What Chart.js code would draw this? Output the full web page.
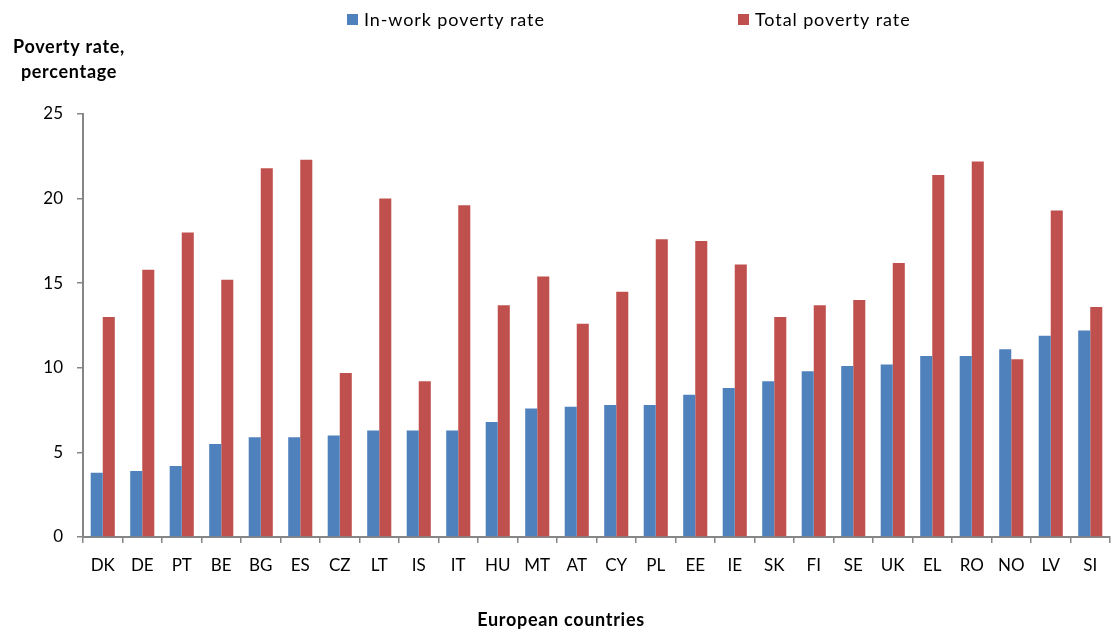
<!DOCTYPE html>
<html>
<head>
<meta charset="utf-8">
<title>In-work and total poverty rate</title>
<script src="https://cdn.jsdelivr.net/npm/chart.js@4.4.1/dist/chart.umd.min.js"></script>
<style>
  html, body { margin: 0; padding: 0; background: #fff; }
  #wrap { width: 1112px; height: 629px; position: relative; }
</style>
</head>
<body>
<div id="wrap"><canvas id="povertyChart"></canvas></div>
<script>
// country codes along the x axis
const countries = ["DK", "DE", "PT", "BE", "BG", "ES", "CZ", "LT", "IS", "IT", "HU", "MT", "AT",
  "CY", "PL", "EE", "IE", "SK", "FI", "SE", "UK", "EL", "RO", "NO", "LV", "SI"];

// in-work poverty rate, %
const inWorkRate = [3.8, 3.9, 4.2, 5.5, 5.9, 5.9, 6.0, 6.3, 6.3, 6.3, 6.8, 7.6, 7.7,
  7.8, 7.8, 8.4, 8.8, 9.2, 9.8, 10.1, 10.2, 10.7, 10.7, 11.1, 11.9, 12.2];

// total poverty rate, %
const totalRate = [13.0, 15.8, 18.0, 15.2, 21.8, 22.3, 9.7, 20.0, 9.2, 19.6, 13.7, 15.4, 12.6,
  14.5, 17.6, 17.5, 16.1, 13.0, 13.7, 14.0, 16.2, 21.4, 22.2, 10.5, 19.3, 13.6];

const seriesNames = ["In-work poverty rate", "Total poverty rate"];
const seriesColors = ["#4F81BD", "#C0504D"];
const yTicks = [0, 5, 10, 15, 20, 25];
const yTitle = ["Poverty rate,", "percentage"];
const xTitle = "European countries";

const FONT = "Lato, 'Liberation Sans', sans-serif";
const AXIS_GREY = "#868686";

Chart.defaults.font.family = FONT;
Chart.defaults.color = "#000";

// legend sits off-centre in the original, so it is drawn by hand
const legendX = [347, 738];

const extraText = {
  id: "extraText",
  afterDraw(chart) {
    const ctx = chart.ctx;
    ctx.save();
    ctx.textBaseline = "middle";

    // legend
    ctx.font = "18px " + FONT;
    ctx.letterSpacing = "0.9px";
    chart.data.datasets.forEach((ds, i) => {
      ctx.fillStyle = ds.backgroundColor;
      ctx.fillRect(legendX[i], 14, 11, 11);
      ctx.fillStyle = "#000";
      ctx.textAlign = "left";
      ctx.fillText(ds.label, legendX[i] + 17, 20);
    });

    // axis titles (y title is horizontal, above the axis)
    ctx.font = "bold 18px " + FONT;
    ctx.letterSpacing = "0.7px";
    ctx.textAlign = "center";
    yTitle.forEach((line, i) => ctx.fillText(line, 69, 47 + i * 25));
    ctx.fillText(xTitle, 561, 620);
    ctx.restore();
  }
};

new Chart(document.getElementById("povertyChart"), {
  type: "bar",
  data: {
    labels: countries,
    datasets: [
      { label: seriesNames[0], data: inWorkRate, backgroundColor: seriesColors[0] },
      { label: seriesNames[1], data: totalRate, backgroundColor: seriesColors[1] },
    ],
  },
  options: {
    responsive: true,
    maintainAspectRatio: false,
    animation: false,
    layout: { padding: { top: 114, right: 2, left: 0, bottom: 0 } },
    datasets: {
      bar: { categoryPercentage: 0.61, barPercentage: 1.0 },
    },
    plugins: {
      legend: { display: false },
      tooltip: { enabled: false },
    },
    scales: {
      x: {
        grid: {
          display: true,
          drawOnChartArea: false,
          offset: true,
          color: AXIS_GREY,
          tickLength: 6,
          lineWidth: 1.5,
        },
        border: { color: AXIS_GREY, width: 2 },
        ticks: { font: { size: 17 }, padding: 12, maxRotation: 0, autoSkip: false },
        afterFit: (s) => { s.height = 92; },
      },
      y: {
        min: 0,
        max: 25,
        afterBuildTicks: (s) => { s.ticks = yTicks.map((v) => ({ value: v })); },
        grid: {
          display: true,
          drawOnChartArea: false,
          color: AXIS_GREY,
          tickLength: 6,
          lineWidth: 1.5,
        },
        border: { color: AXIS_GREY, width: 2 },
        ticks: { font: { size: 17 }, padding: 14 },
        afterFit: (s) => { s.width = 83; },
      },
    },
  },
  plugins: [extraText],
});
</script>
</body>
</html>
